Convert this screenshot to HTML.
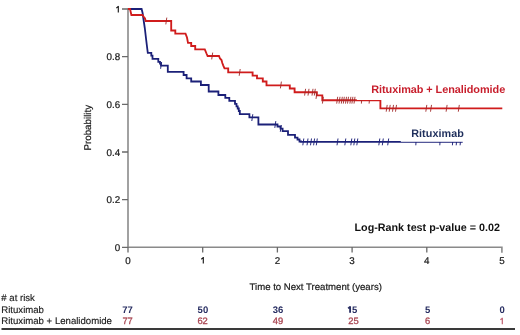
<!DOCTYPE html>
<html><head><meta charset="utf-8">
<style>
html,body{margin:0;padding:0;background:#fff;}
body{width:520px;height:335px;overflow:hidden;position:relative;}
svg{position:absolute;left:0;top:0;display:block;filter:blur(0.3px);}
text{font-family:"Liberation Sans",sans-serif;text-rendering:geometricPrecision;}
</style></head>
<body>
<svg width="520" height="335" viewBox="0 0 520 335">
<!-- axes -->
<g stroke="#6a6a6a" stroke-width="1.3" fill="none">
  <path d="M128,8.5 V247.3 H501.9 V252.8" stroke="#8a8a8a" stroke-width="1.6"/>
  <path d="M122,9 H128 M122,56.7 H128 M122,104.3 H128 M122,152 H128 M122,199.6 H128 M122,247.3 H128"/>
  <path d="M128,247 V252.5 M202.7,247 V252.5 M277.4,247 V252.5 M352.1,247 V252.5 M426.8,247 V252.5"/>
</g>
<!-- y labels -->
<g font-size="9.8" fill="#1a1a1a" stroke="#1a1a1a" stroke-width="0.22" text-anchor="end">
  <text x="120.2" y="60.3">0.8</text>
  <text x="120.2" y="107.9">0.6</text>
  <text x="120.2" y="155.6">0.4</text>
  <text x="120.2" y="203.2">0.2</text>
  <text x="120.2" y="250.9">0</text>
</g>
<!-- x labels -->
<g font-size="9.8" fill="#1a1a1a" stroke="#1a1a1a" stroke-width="0.22" text-anchor="middle">
  <text x="128" y="263.5">0</text>
  <text x="277.4" y="263.5">2</text>
  <text x="352.1" y="263.5">3</text>
  <text x="426.8" y="263.5">4</text>
  <text x="501.9" y="263.5">5</text>
</g>
<text font-size="9.8" fill="#1a1a1a" stroke="#1a1a1a" stroke-width="0.2" text-anchor="middle" transform="translate(91.2,127.7) rotate(-90)">Probability</text>
<text font-size="9.6" fill="#1a1a1a" stroke="#1a1a1a" stroke-width="0.2" x="249.5" y="290.3">Time to Next Treatment (years)</text>

<!-- curves -->

<path fill="none" stroke="#1b2078" stroke-width="1.8" stroke-linejoin="miter" d="M128,9 H141.6 L142.6,13 L143.6,20 L144.8,28 L146.2,40 L147.3,49 L147.8,52.8 H151.3 V55.7 H152.5 V58.9 H158.3 V61.8 H160 V63.6 H161 V65.6 H167.8 V71.9 H183.6 V75 H186.6 V78.4 H191.2 V81.5 H200.9 V85 H208.7 V91.5 H218.4 V95 H225.3 V97.8 H229.3 V100.8 H235 V103.8 H236.5 V106.3 H237.7 V108.5 H238.8 V111 H239.8 V114.2 H249.4 V117.3 H258.4 V124.5 H277.5 V126.5 H280.5 V128.7 H282.6 V131.2 H288 V134.9 H295 V137.7 H297.5 V139.5 H299.5 V141.5 H301 V141.9 H462.7"/>
<path fill="none" stroke="#d01c1c" stroke-width="1.85" stroke-linejoin="miter" d="M128,9 H130 L131.4,15 H142.5 L143.5,16.5 L145,18.5 L145.7,21 H171.2 V30.5 H175.3 V33.6 H185.5 L187,37.5 L188,42.9 H191.2 V46 H195.2 V49.3 H204.8 L206.5,53.5 L207.6,56 H219 L220,58.5 L221.5,60 L222.3,63 L223.3,65.6 L224.5,68.3 H228.2 V72.4 H252.6 V75.6 H257 V78.3 H262.8 V81.5 H266.5 V85.4 H289.8 V88.5 H294.6 V92.2 H316.8 V95.4 H322.3 V100.2 H380.4 V108.3 H502.3"/>

<!-- censor ticks red -->
<g stroke="#a02828" stroke-width="0.9" fill="none">
  <path d="M165.8,24.4 L166.8,17.6 M211.7,59.4 L212.7,52.6 M239.2,75.8 L240.2,69.0 M280.4,88.4 L281.4,81.6 M304.6,95.6 L305.6,88.8 M308.0,95.6 L309.0,88.8 M312.0,95.6 L313.0,88.8 M314.3,95.6 L315.3,88.8 M316.0,98.9 L317.0,92.1 M322.4,103.6 L323.4,96.8 M336.7,103.6 L337.7,96.8 M339.0,103.6 L340.0,96.8 M341.3,103.6 L342.3,96.8 M343.3,103.6 L344.3,96.8 M345.5,103.6 L346.5,96.8 M347.5,103.6 L348.5,96.8 M349.9,103.6 L350.9,96.8 M351.9,103.6 L352.9,96.8 M354.0,103.6 L355.0,96.8 M386.2,111.7 L387.2,104.9 M389.2,111.7 L390.2,104.9 M392.5,111.7 L393.5,104.9 M395.5,111.7 L396.5,104.9 M425.8,111.7 L426.8,104.9 M430.5,111.7 L431.5,104.9 M446.1,111.7 L447.1,104.9 M458.3,111.7 L459.3,104.9 M361.4,103.6 L361.6,100.2 M369.1,103.6 L369.4,100.2"/>
</g>
<!-- censor ticks blue -->
<g stroke="#1b2078" stroke-width="0.95" fill="none">
  <path d="M160.6,68.8 L161.6,62.0 M251.8,121.0 L252.8,114.2 M274.8,127.9 L275.8,121.1 M280.3,131.8 L281.3,125.0 M302.8,145.3 L303.8,138.5 M307.0,145.3 L308.0,138.5 M310.5,145.3 L311.5,138.5 M313.6,145.3 L314.6,138.5 M316.3,145.3 L317.3,138.5 M337.0,145.3 L338.0,138.5 M344.8,145.3 L345.8,138.5 M350.8,145.3 L351.8,138.5 M353.8,145.3 L354.8,138.5 M356.8,145.3 L357.8,138.5 M378.8,145.3 L379.8,138.5 M382.3,145.3 L383.3,138.5 M387.7,145.3 L388.7,138.5 M415.8,145.3 L416.0,141.9 M439.8,145.3 L440.0,141.9 M452.4,145.3 L452.7,141.9 M456.2,145.3 L456.5,141.9 M460.1,145.3 L460.4,141.9"/>
</g>

<!-- legend background boxes (cover upper half of lines) -->
<rect x="356.8" y="78" width="160" height="22" fill="#fff"/>
<rect x="400.8" y="122" width="70" height="19.8" fill="#fff"/>
<!-- legends -->
<text font-size="10.9" font-weight="bold" fill="#c81e2c" x="371.2" y="92.6" textLength="134" lengthAdjust="spacing">Rituximab + Lenalidomide</text>
<text font-size="10.8" font-weight="bold" fill="#1f2f5c" x="411.2" y="136.9" textLength="52.6" lengthAdjust="spacing">Rituximab</text>
<text font-size="10.75" font-weight="bold" fill="#111" x="354.5" y="230.9" textLength="145.5" lengthAdjust="spacing">Log-Rank test p-value = 0.02</text>

<!-- at risk table -->
<g font-size="9.6" fill="#1a1a1a" stroke="#1a1a1a" stroke-width="0.15">
  <text x="1.3" y="300.6"># at risk</text>
  <text x="1.3" y="313.2">Rituximab</text>
  <text x="1.3" y="324.2">Rituximab + Lenalidomide</text>
</g>
<g font-size="9.5" font-weight="bold" text-anchor="middle" fill="#282e62">
  <text x="127.6" y="312.8">77</text>
  <text x="202.9" y="312.8">50</text>
  <text x="278" y="312.8">36</text>
  <text x="354.7" y="312.8">5</text>
  <text x="427.6" y="312.8">5</text>
  <text x="502.2" y="312.8">0</text>
</g>
<g font-size="9.4" text-anchor="middle" fill="#a84450" stroke="#a84450" stroke-width="0.3">
  <text x="127.6" y="324.3">77</text>
  <text x="202.6" y="324.3">62</text>
  <text x="278" y="324.3">49</text>
  <text x="353.4" y="324.3">25</text>
  <text x="427.6" y="324.3">6</text>
</g>
<!-- digit ones drawn as paths (arial style) -->
<g fill="none" stroke-linecap="butt">
  <path d="M118.3,5.9 V12.6 M118.5,6.3 L116.3,8.1" stroke="#1a1a1a" stroke-width="1.15"/>
  <path d="M203.3,257 V263.6 M203.5,257.4 L201.3,259.2" stroke="#1a1a1a" stroke-width="1.15"/>
  <path d="M350.1,306.2 V312.8 M350.3,306.6 L348.1,308.4" stroke="#282e62" stroke-width="1.85"/>
  <path d="M502.3,317.7 V324.3 M502.5,318.1 L500.4,319.8" stroke="#c06070" stroke-width="1.2"/>
</g>
<path d="M1.5,329 H515" stroke="#3a3a3a" stroke-width="1.8"/>
</svg>
</body></html>
